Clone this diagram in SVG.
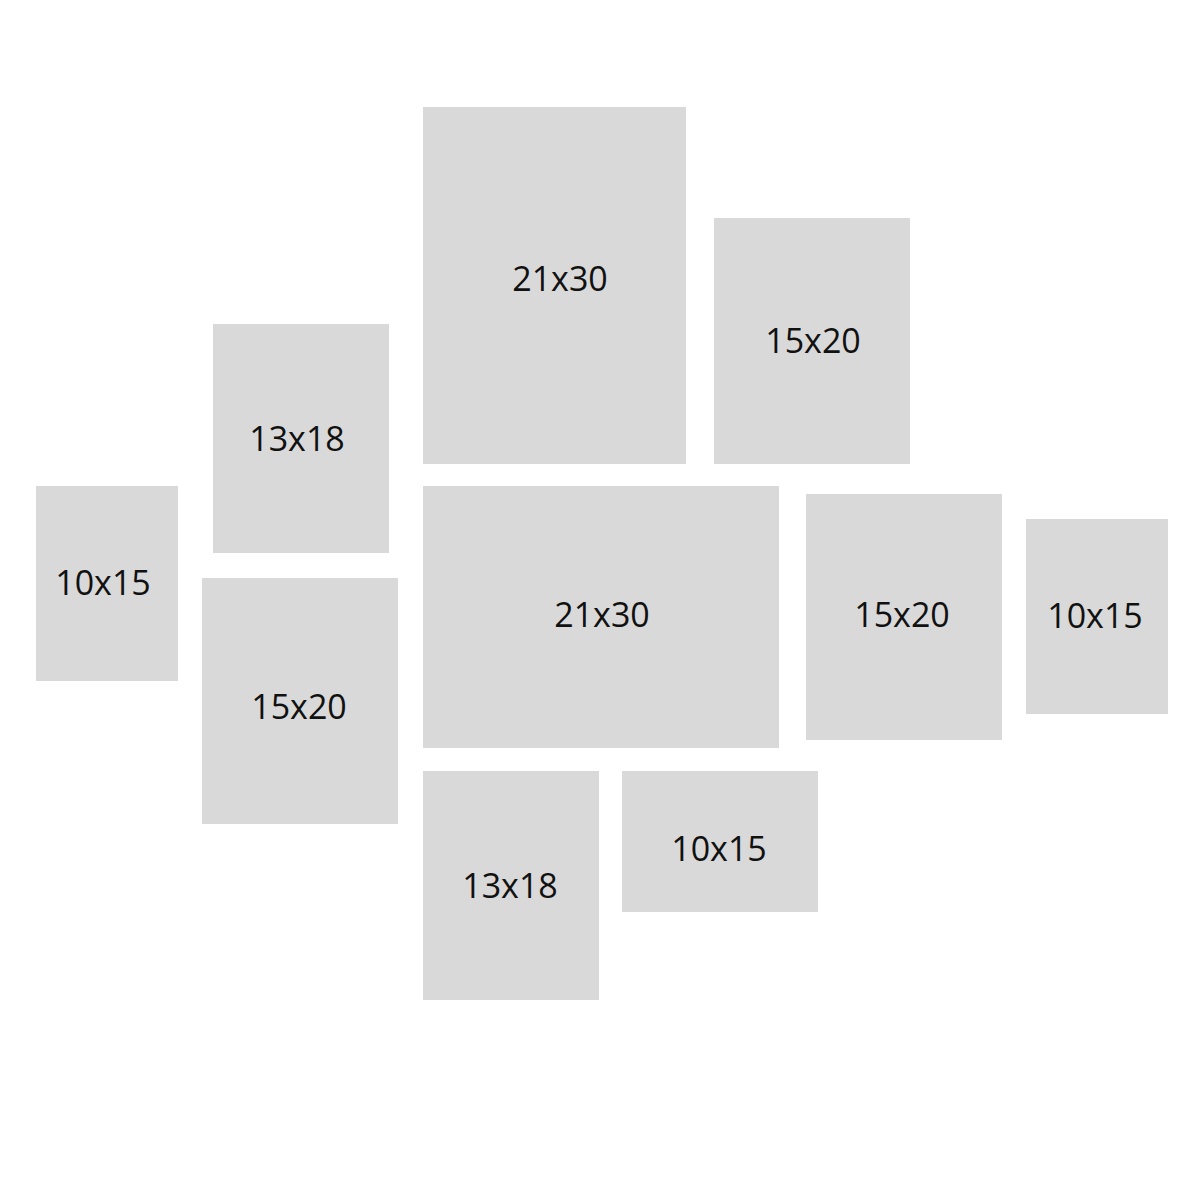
<svg xmlns="http://www.w3.org/2000/svg" width="1200" height="1200" viewBox="0 0 1200 1200">
<style>
.f{fill:#d9d9d9}
.t{font-family:"Open Sans","DejaVu Sans",sans-serif;font-size:34px;fill:#111;text-anchor:middle;dominant-baseline:central}
</style>
<rect width="1200" height="1200" fill="#fff"/>
<g id="n1"><rect class="f" x="423" y="107" width="263" height="357"/><text class="t" x="560" y="278">21x30</text></g>
<g id="n2"><rect class="f" x="714" y="218" width="196" height="246"/><text class="t" x="813" y="340">15x20</text></g>
<g id="n3"><rect class="f" x="213" y="324" width="176" height="229"/><text class="t" x="297" y="438">13x18</text></g>
<g id="n4"><rect class="f" x="36" y="486" width="142" height="195"/><text class="t" x="103" y="582">10x15</text></g>
<g id="n5"><rect class="f" x="202" y="578" width="196" height="246"/><text class="t" x="299" y="706">15x20</text></g>
<g id="n6"><rect class="f" x="423" y="486" width="356" height="262"/><text class="t" x="602" y="614">21x30</text></g>
<g id="n7"><rect class="f" x="806" y="494" width="196" height="246"/><text class="t" x="902" y="614">15x20</text></g>
<g id="n8"><rect class="f" x="1026" y="519" width="142" height="195"/><text class="t" x="1095" y="615">10x15</text></g>
<g id="n9"><rect class="f" x="423" y="771" width="176" height="229"/><text class="t" x="510" y="885">13x18</text></g>
<g id="n10"><rect class="f" x="622" y="771" width="196" height="141"/><text class="t" x="719" y="848">10x15</text></g>
<g id="connectors"/>
</svg>
